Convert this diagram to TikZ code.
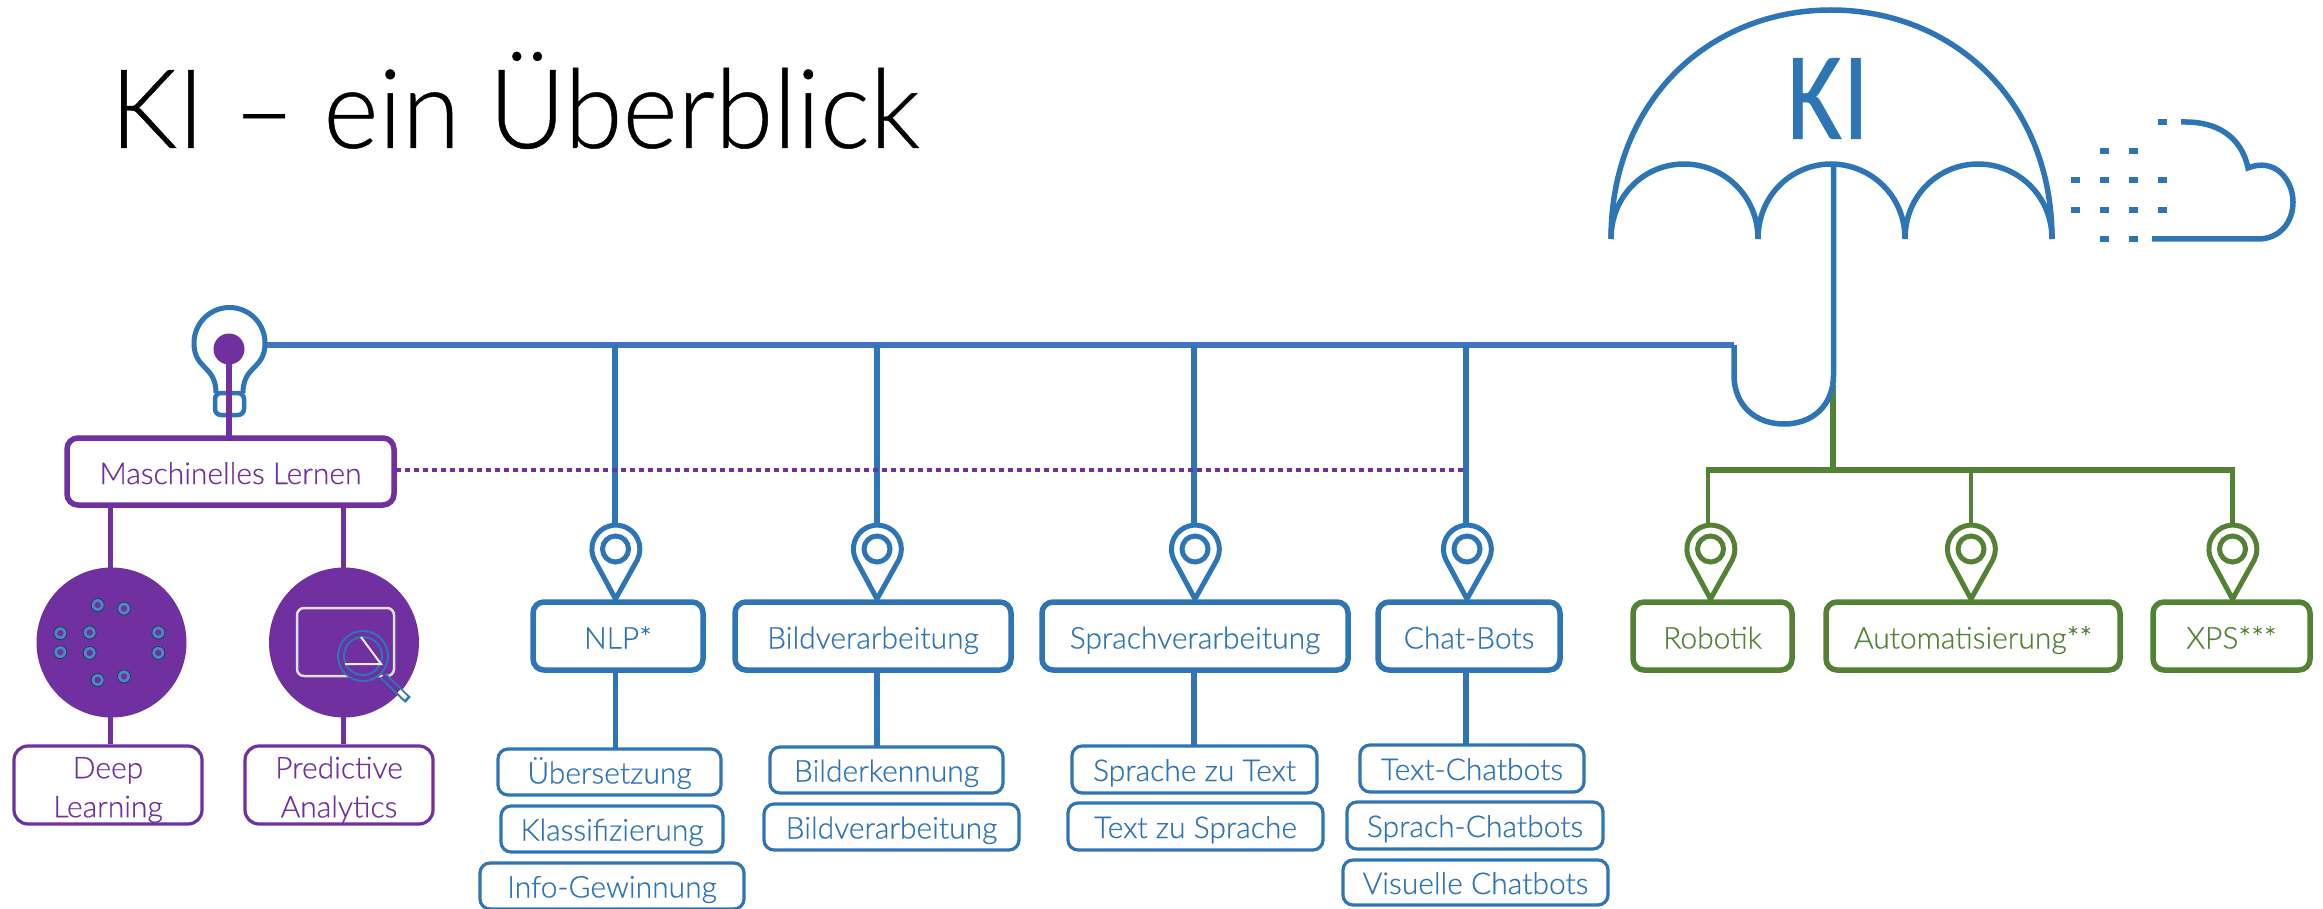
\documentclass[tikz,border=0pt]{standalone}
\usepackage{fontspec}
\setmainfont{Carlito}
\newfontfamily\titlefont{Lato}[UprightFont=* Light,FakeBold=.4]
\newfontfamily\labelfont{Lato}[UprightFont=* Light,FakeBold=.5]
\newfontfamily\kifont{Carlito}[FakeBold=.3]
\definecolor{kiblue}{HTML}{2E75B6}
\definecolor{kiline}{HTML}{4472C4}
\definecolor{kipurple}{HTML}{7030A0}
\definecolor{kigreen}{HTML}{548235}
\definecolor{kidark}{HTML}{1F3864}
\tikzset{
  x=1pt,y=-1pt,
  mainbox/.style={draw=#1,line width=5.5pt,rounded corners=11pt,fill=white,text=#1,inner sep=0pt,text height=25pt,text depth=0pt,font=\labelfont\fontsize{30}{34}\selectfont},
  subbox/.style={draw=#1,line width=3.2pt,rounded corners=10pt,fill=white,text=#1,inner sep=0pt,text height=23pt,text depth=0pt,font=\labelfont\fontsize{30}{34}\selectfont},
  twobox/.style={draw=#1,line width=3.2pt,rounded corners=14pt,fill=white,text=#1,inner sep=0pt,font=\labelfont\fontsize{30}{39}\selectfont,align=center},
  conn/.style={draw=#1,line width=5.5pt},
  dashbit/.style={kiblue,line width=6pt},
  neuron/.style={circle,draw=kidark,fill=kiblue!85!white,line width=.8pt,minimum size=13pt,inner sep=0pt,path picture={\fill[kipurple] (path picture bounding box.center) circle (3.2pt);}},
}
\newcommand{\boxnode}[7]{\node[#1=#2,minimum width=\dimexpr#5pt-#3pt-4pt\relax,minimum height=\dimexpr#6pt-#4pt-4pt\relax,anchor=center] (#7) at ({(#3+#5)/2},{(#4+#6)/2})}
\newcommand{\pin}[3]{%
  \draw[#3,line width=5pt,fill=white,line join=miter] (#1,#2+50) -- (#1-21,#2+11) arc[start angle=207,end angle=-27,x radius=24,y radius=-24] -- cycle;
  \draw[#3,line width=5pt,fill=white] (#1,#2) circle[radius=13];
}
\begin{document}
\begin{tikzpicture}
\useasboundingbox (0,0) rectangle (2323,909);
\node[anchor=base west,inner sep=0pt,xscale=.96,font=\titlefont\fontsize{110}{110}\selectfont,text=black] (title) at (110,148) {KI – ein Überblick};

% umbrella
\coordinate (cl) at (1611,239);
\coordinate (cr) at (2052,239);
\draw[kiblue,line width=5.5pt] (cl) .. controls (1611,100) and (1710,10) .. (1831,10) .. controls (1952,10) and (2052,100) .. (cr);
\draw[kiblue,line width=5.5pt] (cl) .. controls (1611,195) and (1645,164) .. (1684,164) .. controls (1723,164) and (1758,195) .. (1758,239)
 .. controls (1758,195) and (1792,164) .. (1831,164) .. controls (1870,164) and (1905,195) .. (1905,239)
 .. controls (1905,195) and (1939,164) .. (1978,164) .. controls (2017,164) and (2052,195) .. (cr);
\node[text=kiblue,xscale=.85,font=\kifont\fontsize{126}{126}\selectfont,inner sep=0pt,anchor=base] (ki) at (1828,139) {KI};

% cloud
\draw[kiblue,line width=5.5pt] (2181,122) -- (2186,122) .. controls (2215,122) and (2241,135) .. (2248,168) .. controls (2275,157) and (2293,180) .. (2293,202) .. controls (2293,222) and (2280,239) .. (2258,239) -- (2152,239);
\foreach \a/\b/\y in {2158/2167/122,2100/2109/151,2129/2138/151,2071/2080/180,2100/2109/180,2129/2138/180,2158/2167/180,2071/2080/210,2100/2109/210,2129/2138/210,2158/2167/210,2100/2109/239,2129/2138/239}
  \draw[dashbit] (\a,\y) -- (\b,\y);

% green branch
\coordinate (gs) at (1833,385);
\coordinate (gj) at (1833,470);
\coordinate (g1) at (1708,470);
\coordinate (g2) at (1971,470);
\coordinate (g3) at (2232.5,470);
\draw[conn=kigreen] (gs) -- (gj);
\draw[conn=kigreen] (1706,470) -- (2235,470);

% lines
\coordinate (h1) at (615,345);
\coordinate (h2) at (877,345);
\coordinate (h3) at (1194,345);
\coordinate (h4) at (1466,345);
\coordinate (hend) at (1734,345);
\draw[kiline,line width=5.5pt] (265,345) -- (hend);
\draw[kiblue,line width=5.5pt] (hend) -- (1734,375) .. controls (1734,405) and (1755,424) .. (1784,424) .. controls (1813,424) and (1833.5,405) .. (1833.5,375) -- (1833.5,164);
\foreach \c in {h1,h2,h3,h4} \draw[conn=kiblue] (\c) -- ++(0,180);

% boxes
\boxnode{mainbox}{kiblue}{531}{600}{705}{672}{nlp} {NLP*};
\boxnode{mainbox}{kiblue}{733}{600}{1013}{672}{bild} {Bildverarbeitung};
\boxnode{mainbox}{kiblue}{1040}{600}{1350}{672}{spr} {Sprachverarbeitung};
\boxnode{mainbox}{kiblue}{1376}{600}{1562}{672}{chat} {Chat-Bots};
\coordinate (nb) at (615.5,672); \coordinate (bb) at (877,672); \coordinate (sb) at (1194,672); \coordinate (cb) at (1466,672);
\draw[conn=kiblue] (nb) -- ++(0,76);
\draw[conn=kiblue] (bb) -- ++(0,74);
\draw[conn=kiblue] (sb) -- ++(0,73);
\draw[conn=kiblue] (cb) -- ++(0,72);
\pin{615.5}{549}{kiblue}\pin{877}{549}{kiblue}\pin{1195}{549}{kiblue}\pin{1467}{549}{kiblue}

\boxnode{subbox}{kiblue}{496}{747}{723}{797}{s1} {Übersetzung};
\boxnode{subbox}{kiblue}{499}{804}{725}{854}{s2} {Klassifizierung};
\boxnode{subbox}{kiblue}{478}{861}{746}{911}{s3} {Info-Gewinnung};
\boxnode{subbox}{kiblue}{768}{745}{1005}{795}{s4} {Bilderkennung};
\boxnode{subbox}{kiblue}{762}{802}{1021}{852}{s5} {Bildverarbeitung};
\boxnode{subbox}{kiblue}{1070}{744}{1319}{795}{s6} {Sprache zu Text};
\boxnode{subbox}{kiblue}{1066}{801}{1325}{852}{s7} {Text zu Sprache};
\boxnode{subbox}{kiblue}{1358}{743}{1586}{794}{s8} {Text-Chatbots};
\boxnode{subbox}{kiblue}{1345}{800}{1605}{851}{s9} {Sprach-Chatbots};
\boxnode{subbox}{kiblue}{1341}{858}{1610}{907}{s10} {Visuelle Chatbots};

% purple
\coordinate (dot) at (229,349);
\draw[conn=kipurple] (110.5,507) -- (110.5,744);
\draw[conn=kipurple] (343.5,507) -- (343.5,744);
\draw[kipurple,line width=4.5pt,line cap=butt,dash pattern=on 4.5pt off 4.5pt] (396,470) -- (1467,470);
\boxnode{mainbox}{kipurple}{65}{436}{396}{507}{ml} {Maschinelles Lernen};
\boxnode{twobox}{kipurple}{12}{744}{204}{826}{dl} {\rule{0pt}{31pt}Deep\\Learning};
\boxnode{twobox}{kipurple}{243}{744}{435}{826}{pa} {\rule{0pt}{31pt}Predictive\\Analytics};
\node[circle,fill=kipurple,minimum size=150pt,inner sep=0pt] (c1) at (111.5,642.5) {};
\node[circle,fill=kipurple,minimum size=150pt,inner sep=0pt] (c2) at (344,642.5) {};
\foreach \zx/\zy in {293/910,372/920,181/989,269/987,475/987,181/1042,269/1044,475/1044,293/1120,372/1110}
  \node[neuron] at ({\zx/3},{280+\zy/2.8}) {};
% monitor + magnifier
\draw[white!75!gray,line width=2.5pt,rounded corners=7pt] (297,608) rectangle (394,676);
\draw[kiblue,line width=2pt,fill=kipurple] (363,656) circle[radius=25];
\draw[kiblue,line width=2pt] (363,656) circle[radius=19];
\draw[white!85!gray,line width=2pt] (361,637) -- (381,664) -- (345,664);
\draw[kiblue,line width=8pt] (383,676) -- (408,700);
\draw[kipurple,line width=4pt] (383,676) -- (399,691);
\draw[white,line width=4pt] (399,691) -- (406,698);

% bulb
\draw[kiblue,line width=5pt,line join=round] (216,393) .. controls (216,365) and (194,370) .. (194,343) arc[start angle=180,end angle=360,radius=35.5] .. controls (265,370) and (243,365) .. (243,393);
\draw[kiblue,line width=4.5pt,rounded corners=6pt] (215,393) -- (215,415) -- (244,415) -- (244,393) -- cycle;
\fill[kipurple] (dot) circle[radius=15.5];
\draw[conn=kipurple] (229,349) -- (229,436);

% green
\foreach \c in {g1,g2,g3} {\draw[kigreen,line width=4.5pt] (\c) -- ++(0,55);}
\pin{1710.5}{549}{kigreen}\pin{1971}{549}{kigreen}\pin{2232.5}{549}{kigreen}
\boxnode{mainbox}{kigreen}{1631}{600}{1794}{672}{rob} {Robotik};
\boxnode{mainbox}{kigreen}{1824}{600}{2122}{672}{aut} {Automatisierung**};
\boxnode{mainbox}{kigreen}{2151}{600}{2312}{672}{xps} {XPS***};
\end{tikzpicture}
\end{document}
